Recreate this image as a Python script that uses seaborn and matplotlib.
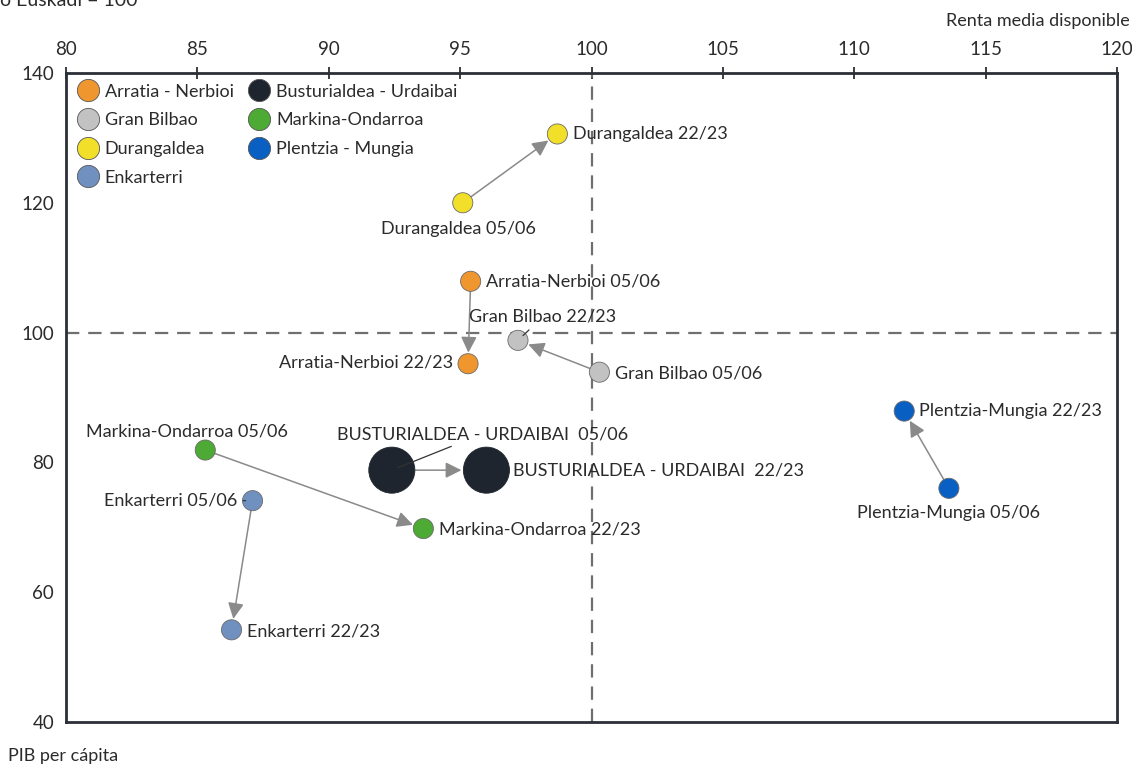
import matplotlib
matplotlib.use("Agg")
import matplotlib.pyplot as plt
import numpy as np
import pandas as pd
import seaborn as sns
from matplotlib.lines import Line2D

# values (Euskadi = 100)
regions = ["Arratia - Nerbioi", "Gran Bilbao", "Durangaldea", "Enkarterri",
           "Busturialdea - Urdaibai", "Markina-Ondarroa", "Plentzia - Mungia"]
renta_0506 = [95.4, 100.3, 95.1, 87.1, 92.4, 85.3, 113.6]
pib_0506 = [107.9, 93.9, 120.0, 74.1, 78.8, 81.9, 76.0]
renta_2223 = [95.3, 97.2, 98.7, 86.3, 96.0, 93.6, 111.9]
pib_2223 = [95.2, 98.8, 130.6, 54.2, 78.8, 69.8, 87.9]
labels_0506 = ["Arratia-Nerbioi 05/06", "Gran Bilbao 05/06", "Durangaldea 05/06",
               "Enkarterri 05/06", "BUSTURIALDEA - URDAIBAI  05/06",
               "Markina-Ondarroa 05/06", "Plentzia-Mungia 05/06"]
labels_2223 = ["Arratia-Nerbioi 22/23", "Gran Bilbao 22/23", "Durangaldea 22/23",
               "Enkarterri 22/23", "BUSTURIALDEA - URDAIBAI  22/23",
               "Markina-Ondarroa 22/23", "Plentzia-Mungia 22/23"]
colors = ["#F0962E", "#C2C2C2", "#F2DF2A", "#7090BF", "#1F252E", "#4CAA35", "#0A5FC2"]

# label placement: offset in points and alignment
off_0506 = [((11, 0), "left", "center"), ((11, -1), "left", "center"),
            ((-3, -19), "center", "center"), ((-11, 0), "right", "center"),
            ((65, 26), "center", "center"), ((-13, 13), "center", "center"),
            ((0, -18), "center", "center")]
off_2223 = [((-11, 1), "right", "center"), ((18, 17), "center", "center"),
            ((11, 0), "left", "center"), ((11, -1), "left", "center"),
            ((19, 0), "left", "center"), ((11, -1), "left", "center"),
            ((11, 0), "left", "center")]
leader = {("0506", 4), ("2223", 1), ("0506", 3)}

sns.set_theme(style="white")
plt.rcParams["font.family"] = ["Lato", "DejaVu Sans"]

df = pd.DataFrame({
    "region": regions * 2,
    "renta": renta_0506 + renta_2223,
    "pib": pib_0506 + pib_2223,
})
df["big"] = df["region"].eq("Busturialdea - Urdaibai")

fig = plt.figure(figsize=(11.32, 7.64), dpi=100)
ax = fig.add_axes([0.0583, 0.055, 0.9285, 0.8495])

ax.axvline(100, color="#6f6f6f", lw=1.6, ls=(0, (6, 4)), zorder=1)
ax.axhline(100, color="#6f6f6f", lw=1.6, ls=(0, (6, 4)), zorder=1)

# arrows 05/06 -> 22/23
for i in range(len(regions)):
    big = regions[i] == "Busturialdea - Urdaibai"
    ax.annotate("", xy=(renta_2223[i], pib_2223[i]), xytext=(renta_0506[i], pib_0506[i]),
                arrowprops=dict(arrowstyle="-|>,head_length=0.8,head_width=0.4",
                                color="#8a8a8a", lw=1.1,
                                shrinkA=6 if not big else 17,
                                shrinkB=8 if not big else 18),
                zorder=2)

small = df[~df["big"]]
large = df[df["big"]]
pal = dict(zip(regions, colors))
sns.scatterplot(data=small, x="renta", y="pib", hue="region", palette=pal, s=210,
                edgecolor="#6a6a6a", linewidth=0.6, legend=False, ax=ax, zorder=3)
sns.scatterplot(data=large, x="renta", y="pib", hue="region", palette=pal, s=1100,
                edgecolor="#1F252E", linewidth=0.6, legend=False, ax=ax, zorder=3)

for tag, xs, ys, labs, offs in [("0506", renta_0506, pib_0506, labels_0506, off_0506),
                                ("2223", renta_2223, pib_2223, labels_2223, off_2223)]:
    for i, lab in enumerate(labs):
        (dx, dy), ha, va = offs[i]
        if (tag, i) in leader:
            ax.annotate(lab, xy=(xs[i], ys[i]), xytext=(dx, dy), textcoords="offset points",
                        ha=ha, va=va, fontsize=13, color="#2b2b2b", zorder=4,
                        arrowprops=dict(arrowstyle="-", color="#333333", lw=0.9,
                                        shrinkA=2, shrinkB=5))
        else:
            ax.annotate(lab, xy=(xs[i], ys[i]), xytext=(dx, dy), textcoords="offset points",
                        ha=ha, va=va, fontsize=13, color="#2b2b2b", zorder=4)

ax.set_xlim(80, 120)
ax.set_ylim(40, 140)
ax.set_xticks(np.arange(80, 121, 5))
ax.set_yticks(np.arange(40, 141, 20))
ax.xaxis.tick_top()
ax.tick_params(axis="both", direction="inout", length=9, width=1.3, color="#2b2f36",
               labelsize=13.5, labelcolor="#2b2b2b", pad=4)
ax.tick_params(axis="x", pad=6)
ax.set_xlabel("")
ax.set_ylabel("")
for sp in ax.spines.values():
    sp.set_color("#2b2f36")
    sp.set_linewidth(2)
    sp.set_visible(True)

handles = [Line2D([], [], marker="o", ls="", markersize=16, markerfacecolor=c,
                  markeredgecolor="#555555", markeredgewidth=0.6) for c in colors]
ax.legend(handles, regions, ncol=2, loc="upper left", frameon=False, fontsize=13,
          bbox_to_anchor=(0.0, 1.0), handlelength=1.2, handletextpad=0.35,
          columnspacing=0.8, labelspacing=0.7, borderaxespad=0.2,
          labelcolor="#2b2b2b")

fig.text(0.998, 0.972, "Renta media disponible", ha="right", va="center", fontsize=13,
         color="#2b2b2b")
fig.text(0.007, 0.01, "PIB per cápita", ha="left", va="center", fontsize=13,
         color="#2b2b2b")
fig.text(0.0, 1.0, "o Euskadi = 100", ha="left", va="center", fontsize=14,
         color="#2b2b2b")

fig.savefig("out.png", dpi=100)
